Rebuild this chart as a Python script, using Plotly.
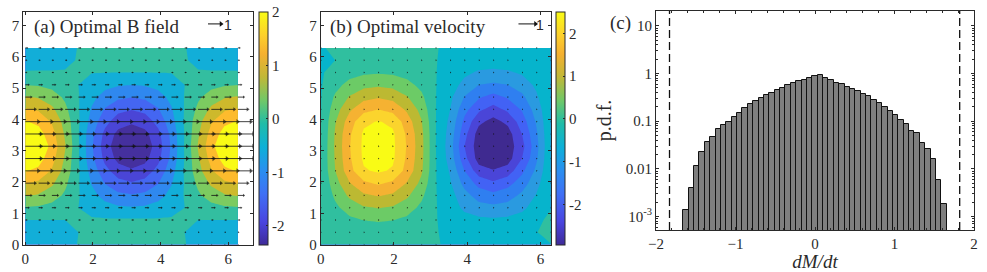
import numpy as np
import plotly.graph_objects as go

W, H = 987, 272
FONT = "Liberation Serif"
INK = "#2a2a2a"

grid = [0.0, 0.393, 0.785, 1.178, 1.571, 1.963, 2.356, 2.749, 3.142, 3.534, 3.927, 4.32, 4.712, 5.105, 5.498, 5.89, 6.283]

half_a = [
    [-.42,-.40,-.35,-.28,-.19,-.095,-.02,.03,.05],
    [-.40,-.385,-.34,-.28,-.20,-.12,-.06,-.015,0],
    [-.20,-.20,-.20,-.20,-.19,-.15,-.15,-.15,-.15],
    [.20,.17,.08,-.05,-.20,-.35,-.48,-.57,-.60],
    [.68,.62,.43,.16,-.17,-.50,-.77,-.96,-1.02],
    [1.11,1.01,.74,.32,-.17,-.66,-1.08,-1.35,-1.45],
    [1.55,1.42,1.05,.50,-.15,-.80,-1.35,-1.72,-1.85],
    [1.85,1.70,1.26,.60,-.175,-.95,-1.61,-2.05,-2.20],
    [2.05,1.88,1.40,.69,-.155,-1.00,-1.71,-2.19,-2.36],
    [1.85,1.70,1.26,.60,-.175,-.95,-1.61,-2.05,-2.20],
    [1.56,1.42,1.05,.50,-.15,-.80,-1.35,-1.72,-1.85],
    [1.13,1.03,.75,.33,-.17,-.67,-1.09,-1.37,-1.47],
    [.69,.62,.44,.15,-.18,-.51,-.80,-.98,-1.05],
    [.22,.19,.10,-.04,-.20,-.36,-.50,-.59,-.62],
    [-.17,-.17,-.175,-.18,-.185,-.19,-.195,-.20,-.20],
    [-.38,-.365,-.32,-.26,-.18,-.10,-.04,.005,.02],
    [-.42,-.40,-.35,-.28,-.19,-.095,-.02,.03,.05],
]
field_a = [row + row[-2::-1] for row in half_a]

field_b = [
    [.02,.04,.07,.09,.10,.09,.07,.04,.02,-.04,-.07,-.09,-.10,-.09,-.07,-.04,-.01],
    [.02,.08,.14,.18,.20,.18,.14,.08,.02,-.08,-.14,-.18,-.20,-.18,-.14,-.01,.10],
    [.02,.19,.35,.46,.50,.46,.35,.19,.02,-.15,-.27,-.35,-.38,-.35,-.27,-.10,.10],
    [.02,.35,.65,.85,.92,.85,.65,.35,.02,-.20,-.55,-.72,-.78,-.72,-.55,-.25,-.02],
    [.02,.53,.98,1.28,1.38,1.28,.98,.55,.02,-.28,-.74,-1.10,-1.22,-1.10,-.80,-.42,-.02],
    [.02,.71,1.32,1.72,1.86,1.72,1.32,.78,.02,-.40,-1.05,-1.50,-1.72,-1.50,-1.13,-.60,-.02],
    [.02,.89,1.64,2.20,2.32,2.20,1.64,.98,.02,-.50,-1.35,-2.05,-2.20,-2.05,-1.45,-.80,-.02],
    [.02,.94,1.73,2.33,2.45,2.33,1.73,1.03,.02,-.63,-1.65,-2.45,-2.70,-2.45,-1.80,-.97,-.02],
    [.00,.96,1.77,2.35,2.50,2.35,1.77,1.05,.01,-.68,-1.80,-2.50,-2.95,-2.50,-1.95,-1.05,-.02],
    [-.02,.94,1.73,2.33,2.45,2.33,1.73,1.03,.01,-.63,-1.65,-2.45,-2.75,-2.45,-1.80,-.97,-.02],
    [-.02,.86,1.58,2.15,2.28,2.15,1.58,.94,.01,-.55,-1.46,-2.15,-2.40,-2.15,-1.58,-.85,-.02],
    [-.03,.69,1.27,1.65,1.79,1.65,1.27,.75,.01,-.45,-1.20,-1.70,-1.98,-1.70,-1.30,-.70,-.02],
    [-.03,.51,.93,1.22,1.32,1.22,.93,.55,.01,-.35,-.92,-1.30,-1.50,-1.30,-1.00,-.52,-.02],
    [-.04,.31,.58,.76,.82,.76,.58,.33,.01,-.22,-.60,-.90,-.97,-.90,-.69,-.36,-.02],
    [-.05,.15,.29,.38,.41,.38,.29,.15,.01,-.15,-.35,-.51,-.55,-.51,-.39,-.20,-.02],
    [-.10,.00,.08,.11,.12,.11,.08,.05,.01,-.08,-.16,-.20,-.22,-.20,-.16,-.08,-.02],
    [-.02,.04,.07,.09,.10,.09,.07,.04,.01,-.04,-.07,-.09,-.10,-.09,-.07,-.04,-.02],
]

b_field_u_by_row = [.03,.06,.12,.26,.45,.75,1.0,1.2,1.2,1.2,1.0,.75,.45,.26,.1,.1,.15]
velocity_u_by_row = [.02,.02,.02,.02,.02,.02,.02,.02,.02,.02,.02,.02,.02,.02,.02,.02,.02]

levels_a = [-1.92,-1.49,-1.05,-.62,-.18,.26,.69,1.13,1.56]
levels_b = [-2.25,-1.8,-1.35,-.9,-.45,0,.45,.9,1.35,1.8,2.25]
bands_a = ["#45309e","#4a45d6","#4466f2","#2f88ef","#12aed8","#33bea0","#7ccb60","#cdb92c","#fdbb2d","#f9fb15"]
bands_b = ["#3f2a90","#4a45d8","#4262f5","#2f7ff0","#2a9ae0","#06b4cc","#30bf9f","#6ccb66","#bcb932","#f5b232","#fbd42d","#f9fb15"]

parula = [[0,"#3e2a98"],[.1,"#4a45e0"],[.22,"#3f70f5"],[.32,"#2a8ff0"],[.42,"#0cb0d8"],[.52,"#20bca8"],
          [.62,"#70c868"],[.72,"#c0b838"],[.82,"#f5b030"],[.9,"#fdd02c"],[1,"#f9fb15"]]

bin_width = 0.0676
bin_index = list(range(-24, 25))
pdf_values = [.00136,.00399,.01156,.0231,.0368,.0469,.0702,.0851,.0984,.1233,.152,.1935,.2274,.267,.309,.357,.399,.447,
              .508,.569,.637,.702,.748,.811,.908,.923,.811,.725,.637,.597,.525,.484,.426,.380,.334,.285,.243,.200,.165,
              .138,.105,.0865,.0627,.0578,.0357,.0267,.0160,.00578,.00181]
threshold_left, threshold_right = -1.83, 1.82


def px_x(a, b):
    return [a / W, b / W]


def px_y(top, bottom):
    return [1 - bottom / H, 1 - top / H]


def band_scale(colors):
    n = len(colors)
    out = []
    for i, c in enumerate(colors):
        out += [[i / n, c], [(i + 1) / n, c]]
    return out


def add_contour(z, levels, colors, xa, ya):
    step = levels[1] - levels[0]
    fig.add_trace(go.Contour(
        x=grid, y=grid, z=z, xaxis=xa, yaxis=ya, showscale=False,
        zmin=levels[0] - step, zmax=levels[-1] + step, colorscale=band_scale(colors),
        autocontour=False,
        contours=dict(start=levels[0], end=levels[-1], size=step, coloring="fill", showlines=False),
        line=dict(width=0, smoothing=0), hoverinfo="skip"))


def add_quiver(u_rows, scale, xa, ya):
    lx, ly, hx, hy, hs = [], [], [], [], []
    for y, u in zip(grid, u_rows):
        for x in grid:
            d = u * scale
            lx += [x, x + d, None]
            ly += [y, y, None]
            hx.append(x + d)
            hy.append(y)
            hs.append(float(np.clip(1.5 + 8 * d, 1.5, 4.5)))
    fig.add_trace(go.Scatter(x=lx, y=ly, mode="lines", xaxis=xa, yaxis=ya, line=dict(color="#111", width=0.8),
                             hoverinfo="skip", showlegend=False))
    fig.add_trace(go.Scatter(x=hx, y=hy, mode="markers", xaxis=xa, yaxis=ya, hoverinfo="skip", showlegend=False,
                             marker=dict(symbol="triangle-right", size=hs, color="#111", line=dict(width=0))))


def add_key(x0, y0, length, xa, ya):
    fig.add_trace(go.Scatter(x=[x0, x0 + length], y=[y0, y0], mode="lines", xaxis=xa, yaxis=ya,
                             line=dict(color="#111", width=1), hoverinfo="skip", showlegend=False))
    fig.add_trace(go.Scatter(x=[x0 + length], y=[y0], mode="markers", xaxis=xa, yaxis=ya, hoverinfo="skip",
                             showlegend=False,
                             marker=dict(symbol="triangle-right", size=5, color="#111", line=dict(width=0))))


def add_colorbar(cmin, cmax, ticks, left, thick):
    fig.add_trace(go.Scatter(
        x=[None], y=[None], mode="markers", hoverinfo="skip", showlegend=False,
        marker=dict(color=[cmin, cmax], cmin=cmin, cmax=cmax, colorscale=parula, showscale=True, size=0,
                    colorbar=dict(x=left / W, xanchor="left", xpad=0, ypad=0, thickness=thick, thicknessmode="pixels",
                                  len=233.3 / H, lenmode="fraction", y=1 - 245 / H, yanchor="bottom",
                                  tickvals=ticks, ticktext=[str(t) for t in ticks], ticks="inside", ticklen=2,
                                  tickcolor=INK, outlinecolor=INK, outlinewidth=1, borderwidth=0,
                                  tickfont=dict(family=FONT, size=15, color=INK)))))


fig = go.Figure()
add_contour(field_a, levels_a, bands_a, "x", "y")
add_quiver(b_field_u_by_row, 0.385, "x", "y")
add_key(5.4, 7.05, 0.385, "x", "y")
add_colorbar(-2.36, 2.0, [-2, -1, 0, 1, 2], 259, 9)

add_contour(field_b, levels_b, bands_b, "x2", "y2")
add_quiver(velocity_u_by_row, 0.465, "x2", "y2")
add_key(5.4, 7.05, 0.465, "x2", "y2")
add_colorbar(-2.95, 2.5, [-2, -1, 0, 1, 2], 556, 8.5)

fig.add_trace(go.Bar(x=[i * bin_width for i in bin_index], y=pdf_values, width=bin_width, xaxis="x3", yaxis="y3",
                     marker=dict(color="#7f7f7f", line=dict(color="#111", width=1)), hoverinfo="skip", showlegend=False))
for xv in (threshold_left, threshold_right):
    fig.add_trace(go.Scatter(x=[xv, xv], y=[5.2e-4, 20.6], mode="lines", xaxis="x3", yaxis="y3", hoverinfo="skip",
                             showlegend=False, line=dict(color="#111", width=1.3, dash="8px,4px")))

tick_font = dict(family=FONT, size=15, color=INK)
common = dict(showgrid=False, zeroline=False, showline=True, linecolor=INK, linewidth=1, mirror="allticks",
              ticks="inside", ticklen=3, tickcolor=INK, tickfont=tick_font)
minor_log = [m * 10.0 ** e for e in range(-4, 2) for m in range(2, 10)]
minor_log = [v for v in minor_log if 5.2e-4 < v < 20.6]

fig.update_layout(
    width=W, height=H, autosize=False, margin=dict(l=0, r=0, t=0, b=0, autoexpand=False), paper_bgcolor="white", plot_bgcolor="white",
    showlegend=False, font=dict(family=FONT, color=INK), bargap=0,
    xaxis=dict(domain=px_x(23.3, 253), range=[-0.06, 6.73], tickvals=[0, 2, 4, 6], anchor="y", **common),
    yaxis=dict(domain=px_y(11.7, 244.6), range=[0, 7.44], tickvals=list(range(8)), anchor="x", **common),
    xaxis2=dict(domain=px_x(320.7, 550.7), range=[0, 6.28], tickvals=[0, 2, 4, 6], anchor="y2", **common),
    yaxis2=dict(domain=px_y(11.7, 244.6), range=[0, 7.44], tickvals=list(range(8)), anchor="x2", **common),
    xaxis3=dict(domain=px_x(656, 974), range=[-2, 2], tickvals=[-2, -1, 0, 1, 2],
                ticktext=["\u22122", "\u22121", "0", "1", "2"], anchor="y3",
                minor=dict(tickvals=[v / 5 for v in range(-10, 11)], ticks="inside", ticklen=2, tickcolor=INK),
                title=dict(text="<i>dM/dt</i>", font=dict(family=FONT, size=19, color=INK), standoff=4), **common),
    yaxis3=dict(domain=px_y(11, 230), type="log", range=[np.log10(5.2e-4), np.log10(20.6)],
                tickvals=[1e-3, .01, .1, 1, 10], ticktext=["10<sup>-3</sup>", "0.01", "0.1", "1", "10"], anchor="x3",
                minor=dict(tickvals=minor_log, ticks="inside", ticklen=2, tickcolor=INK),
                title=dict(text="p.d.f.", font=dict(family=FONT, size=20, color=INK), standoff=8), **common),
    annotations=[
        dict(text="(a) Optimal B field", xref="paper", yref="paper", x=32 / W, y=1 - 27 / H, xanchor="left",
             yanchor="middle", showarrow=False, font=dict(family=FONT, size=19, color=INK)),
        dict(text="1", xref="paper", yref="paper", x=228 / W, y=1 - 25 / H, xanchor="center", yanchor="middle",
             showarrow=False, font=dict(family="Liberation Sans", size=14, color=INK)),
        dict(text="(b) Optimal velocity", xref="paper", yref="paper", x=328 / W, y=1 - 27 / H, xanchor="left",
             yanchor="middle", showarrow=False, font=dict(family=FONT, size=19, color=INK)),
        dict(text="1", xref="paper", yref="paper", x=540 / W, y=1 - 25 / H, xanchor="center", yanchor="middle",
             showarrow=False, font=dict(family="Liberation Sans", size=14, color=INK)),
        dict(text="(c)", xref="paper", yref="paper", x=608 / W, y=1 - 23 / H, xanchor="left", yanchor="middle",
             showarrow=False, font=dict(family=FONT, size=19, color=INK)),
    ],
)

fig.write_html("out.html", config=dict(displayModeBar=False), post_script="document.body.style.margin='0';")
